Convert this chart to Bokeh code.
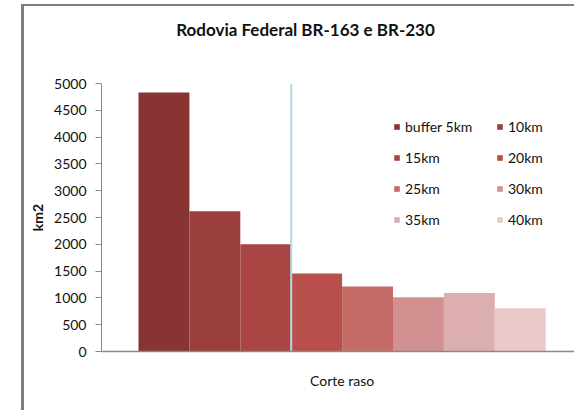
from bokeh.plotting import figure
from bokeh.models import Range1d, FixedTicker, Legend, LegendItem, LinearAxis, Div, Spacer
from bokeh.layouts import row, column
from bokeh.embed import file_html
from bokeh.resources import INLINE

# ---- data ----
title_text = "Rodovia Federal BR-163 e BR-230"
category = "Corte raso"
series = ["buffer 5km", "10km", "15km", "20km", "25km", "30km", "35km", "40km"]
values = [4830, 2615, 2000, 1455, 1215, 1010, 1090, 805]
colors = ["#873432", "#9b3f3c", "#a94542", "#b84f4b", "#c46a67", "#d29190", "#dcafae", "#e8c8c8"]
y_ticks = [0, 500, 1000, 1500, 2000, 2500, 3000, 3500, 4000, 4500, 5000]
y_label = "km2"
divider_between = 2  # stray vertical line drawn after the 3rd bar

FONT = "Lato"
FRAME_GRAY = "#7f7f7f"
AXIS_GRAY = "#8a8a8a"
TXT = "#111111"

xs = list(range(len(values)))
group_center = (xs[0] + xs[-1]) / 2
x_lo, x_hi = -1.227, 8.066
frame_px = 473
title_center = x_lo + 204 / (frame_px / (x_hi - x_lo))  # title is centred on the chart area

p = figure(width=550, height=404,
           x_range=Range1d(x_lo, x_hi), y_range=Range1d(0, y_ticks[-1]),
           output_backend="svg", toolbar_location=None,
           min_border_left=77, min_border_right=0, min_border_top=77, min_border_bottom=59)
p.margin = 0
p.outline_line_color = None
p.grid.visible = False
p.background_fill_color = "white"
p.border_fill_color = "white"

renderers = []
for i in range(len(values)):
    r = p.vbar(x=[xs[i]], top=[values[i]], width=1.0, fill_color=colors[i], line_color=None)
    renderers.append(r)

# stray vertical line
p.segment(x0=[divider_between + 0.5], y0=[0], x1=[divider_between + 0.5], y1=[y_ticks[-1]],
          line_color="#b0dde1", line_width=2)

# y axis
ya = p.yaxis[0]
ya.ticker = FixedTicker(ticks=y_ticks)
ya.minor_tick_line_color = None
ya.major_tick_out = 6
ya.major_tick_in = 0
ya.major_tick_line_color = AXIS_GRAY
ya.axis_line_color = AXIS_GRAY
ya.major_label_text_font = FONT
ya.major_label_text_font_size = "14px"
ya.major_label_text_color = TXT
ya.major_label_standoff = 9
ya.axis_label = y_label
ya.axis_label_text_font = FONT
ya.axis_label_text_font_size = "14px"
ya.axis_label_text_font_style = "bold"
ya.axis_label_text_color = TXT
ya.axis_label_standoff = 5

# x axis
xa = p.xaxis[0]
xa.ticker = FixedTicker(ticks=[group_center])
xa.major_label_overrides = {group_center: category}
xa.minor_tick_line_color = None
xa.major_tick_line_color = None
xa.major_tick_out = 0
xa.axis_line_color = AXIS_GRAY
xa.axis_line_width = 1.5
xa.major_label_text_font = FONT
xa.major_label_text_font_size = "14px"
xa.major_label_text_color = TXT
xa.major_label_standoff = 20

# title, drawn as the single label of an invisible top axis
ta = LinearAxis(ticker=FixedTicker(ticks=[title_center]),
                major_label_overrides={title_center: title_text},
                axis_line_color=None, major_tick_line_color=None, minor_tick_line_color=None,
                major_tick_out=0, major_tick_in=0, major_label_standoff=44,
                major_label_text_font=FONT, major_label_text_font_size="17px",
                major_label_text_font_style="bold", major_label_text_color=TXT)
p.add_layout(ta, "above")

# legends: two columns
left_items = [LegendItem(label=series[i], renderers=[renderers[i]]) for i in range(0, 8, 2)]
right_items = [LegendItem(label=series[i], renderers=[renderers[i]]) for i in range(1, 8, 2)]
for items, vx in ((left_items, 292), (right_items, 395)):
    lg = Legend(items=items, location=(vx, 123), orientation="vertical",
                glyph_width=7, glyph_height=7, label_height=16, spacing=14,
                label_standoff=5, padding=0, margin=0,
                border_line_color=None, background_fill_alpha=0,
                label_text_font=FONT, label_text_font_size="14px", label_text_color=TXT)
    p.add_layout(lg, "center")

# chart-area frame (left and top border lines)
top_line = Div(text="", width=553, height=2, margin=0, styles={"background-color": FRAME_GRAY})
left_line = Div(text="", width=3, height=404, margin=0, styles={"background-color": FRAME_GRAY})
layout = column(Spacer(width=574, height=4, margin=0),
                row(Spacer(width=21, height=2, margin=0), top_line, spacing=0, margin=0),
                row(Spacer(width=21, height=404, margin=0), left_line, p, spacing=0, margin=0),
                spacing=0, margin=0)

open("out.html", "w").write(file_html(layout, INLINE))
